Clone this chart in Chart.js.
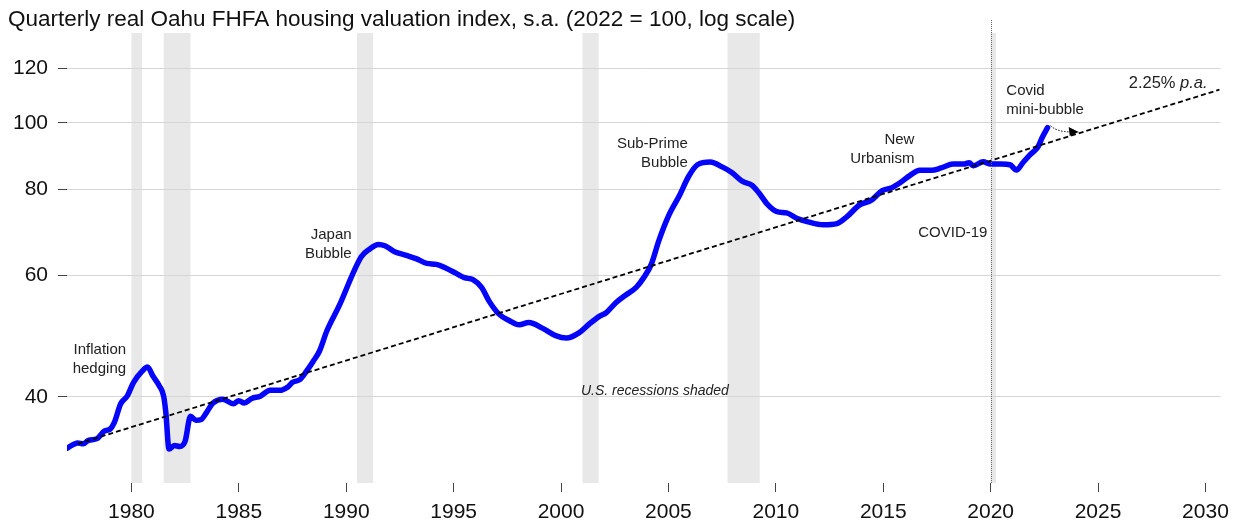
<!DOCTYPE html>
<html>
<head>
<meta charset="utf-8">
<script src="https://cdn.jsdelivr.net/npm/chart.js@4/dist/chart.umd.min.js"></script>
<style>
  body { margin: 0; background: #fff; }
  #wrap { width: 1237px; height: 522px; }
</style>
</head>
<body>
<div id="wrap"><canvas id="oahuChart" width="1237" height="522"></canvas></div>
<script>
// Real Oahu FHFA index (2022 = 100)
const years = [
  1977.0, 1977.5, 1977.75, 1978.0, 1978.4, 1978.75, 1979.0, 1979.2, 1979.5, 1979.8,
  1980.1, 1980.5, 1980.75, 1981.0, 1981.3, 1981.5, 1981.6, 1981.75, 1982.0, 1982.25,
  1982.5, 1982.75, 1983.0, 1983.25, 1983.5, 1983.8, 1984.25, 1984.75, 1985.0, 1985.25,
  1985.6, 1986.0, 1986.45, 1986.9, 1987.3, 1987.5, 1987.85, 1988.15, 1988.45, 1988.75,
  1989.1, 1989.7, 1990.3, 1990.7, 1991.1, 1991.5, 1991.8, 1992.25, 1992.8, 1993.25,
  1993.75, 1994.2, 1994.65, 1995.1, 1995.5, 1995.9, 1996.3, 1996.65, 1997.1, 1997.6,
  1998.05, 1998.5, 1999.15, 1999.75, 2000.25, 2000.85, 2001.3, 2001.8, 2002.1, 2002.55,
  2003.0, 2003.5, 2003.85, 2004.2, 2004.55, 2005.0, 2005.5, 2005.95, 2006.35, 2006.95,
  2007.5, 2007.95, 2008.45, 2008.9, 2009.2, 2009.6, 2010.05, 2010.5, 2011.0, 2011.5,
  2012.2, 2012.85, 2013.3, 2013.9, 2014.45, 2014.95, 2015.4, 2015.8, 2016.25, 2016.7,
  2017.25, 2017.7, 2018.25, 2018.75, 2019.0, 2019.2, 2019.65, 2020.0, 2020.5, 2020.9,
  2021.2, 2021.5, 2021.85, 2022.2, 2022.4, 2022.65
];
const index = [
  33.7, 34.3, 34.2, 34.6, 34.8, 35.7, 35.9, 36.7, 39.1, 40.1,
  42.0, 43.6, 44.2, 42.9, 41.5, 40.1, 38.0, 33.6, 34.0, 33.9,
  34.5, 37.5, 37.0, 37.1, 38.0, 39.2, 39.7, 39.1, 39.5, 39.2,
  39.8, 40.1, 40.9, 40.9, 41.4, 42.0, 42.4, 43.6, 45.0, 46.6,
  49.9, 54.5, 60.3, 63.9, 65.6, 66.6, 66.3, 65.0, 64.2, 63.5,
  62.5, 62.3, 61.5, 60.5, 59.6, 59.2, 57.7, 55.1, 52.8, 51.6,
  50.9, 51.3, 50.3, 49.1, 48.7, 49.6, 51.0, 52.4, 53.0, 54.8,
  56.2, 57.7, 59.6, 62.3, 67.4, 73.2, 78.3, 83.7, 86.9, 87.7,
  86.3, 84.7, 82.2, 81.1, 79.2, 76.2, 74.3, 74.0, 72.6, 71.8,
  71.1, 71.4, 73.0, 76.0, 77.2, 79.7, 80.5, 81.9, 83.9, 85.3,
  85.3, 86.0, 87.1, 87.1, 87.5, 86.6, 87.8, 87.1, 87.1, 86.9,
  85.4, 87.5, 90.0, 92.2, 95.2, 98.4
];

// 2.25% p.a. trend, end points
const trendYears = [1977.5, 2030.65];
const trendValues = [34.2, 111.7];

// US recessions (start, end) in years
const recessions = [
  [1980.0, 1980.5], [1981.5, 1982.75], [1990.5, 1991.25],
  [2001.0, 2001.75], [2007.75, 2009.25], [2020.0, 2020.25]
];

const xTicks = [1980, 1985, 1990, 1995, 2000, 2005, 2010, 2015, 2020, 2025, 2030];
const yTicks = [40, 60, 80, 100, 120];

const FONT = "'Liberation Sans', Arial, sans-serif";

const labels = [
  { lines: ["Inflation", "hedging"], x: 1979.75, y: 46.8, align: "right" },
  { lines: ["Japan", "Bubble"], x: 1990.25, y: 68.7, align: "right" },
  { lines: ["Sub-Prime", "Bubble"], x: 2005.9, y: 93.2, align: "right" },
  { lines: ["New", "Urbanism"], x: 2016.45, y: 94.4, align: "right" },
  { lines: ["COVID-19"], x: 2019.85, y: 69.2, align: "right" },
  { lines: ["Covid", "mini-bubble"], x: 2020.73, y: 111.2, align: "left" }
];

const overlay = {
  id: "overlay",
  beforeDraw(chart) {
    const { ctx, chartArea, scales } = chart;
    ctx.save();
    ctx.fillStyle = "#e8e8e8";
    recessions.forEach(r => {
      const a = scales.x.getPixelForValue(r[0]);
      const b = scales.x.getPixelForValue(r[1]);
      ctx.fillRect(a, chartArea.top, b - a, chartArea.bottom - chartArea.top);
    });
    ctx.restore();
  },
  afterDatasetsDraw(chart) {
    const { ctx, chartArea, scales } = chart;
    const px = v => scales.x.getPixelForValue(v);
    const py = v => scales.y.getPixelForValue(v);
    ctx.save();

    // covid marker line
    ctx.strokeStyle = "#666";
    ctx.lineWidth = 1;
    ctx.setLineDash([1, 1]);
    ctx.beginPath();
    ctx.moveTo(Math.round(px(2020.0)) + 0.5, 20);
    ctx.lineTo(Math.round(px(2020.0)) + 0.5, chartArea.bottom);
    ctx.stroke();

    // dotted arrow from the last point onto the trend
    const x0 = px(years[years.length - 1]) + 3, y0 = py(index[index.length - 1]) - 2;
    const x1 = px(2024.1), y1 = py(97.0);
    ctx.setLineDash([1.5, 1.5]);
    ctx.strokeStyle = "#000";
    ctx.beginPath();
    ctx.moveTo(x0, y0);
    ctx.quadraticCurveTo(x0 + 6, y1, x1 - 8, y1);
    ctx.stroke();
    ctx.setLineDash([]);
    ctx.fillStyle = "#000";
    ctx.beginPath();
    ctx.moveTo(x1, y1);
    ctx.lineTo(x1 - 10, y1 - 5);
    ctx.lineTo(x1 - 9, y1 + 4);
    ctx.closePath();
    ctx.fill();

    // text notes
    ctx.fillStyle = "#222";
    ctx.textBaseline = "middle";
    ctx.font = "15px " + FONT;
    labels.forEach(l => {
      ctx.textAlign = l.align;
      l.lines.forEach((t, i) => ctx.fillText(t, px(l.x), py(l.y) + i * 19));
    });

    // 2.25% p.a.
    ctx.font = "italic 16.5px " + FONT;
    const pa = "p.a.";
    const wPa = ctx.measureText(pa).width;
    const rx = px(2030.1), ry = py(113.9);
    ctx.textAlign = "right";
    ctx.fillText(pa, rx, ry);
    ctx.font = "16.5px " + FONT;
    ctx.fillText("2.25% ", rx - wPa, ry);

    ctx.font = "italic 14px " + FONT;
    ctx.textAlign = "center";
    ctx.fillText("U.S. recessions shaded", px(2004.37), py(40.8));

    // title
    ctx.font = "22.5px " + FONT;
    ctx.textAlign = "left";
    ctx.fillStyle = "#111";
    ctx.fillText("Quarterly real Oahu FHFA housing valuation index, s.a. (2022 = 100, log scale)", 8, 20);
    ctx.restore();
  }
};

const ctx = document.getElementById("oahuChart").getContext("2d");
new Chart(ctx, {
  type: "line",
  data: {
    datasets: [
      {
        label: "Trend",
        data: trendYears.map((y, i) => ({ x: y, y: trendValues[i] })),
        borderColor: "#000",
        borderWidth: 1.8,
        borderDash: [5, 3],
        pointRadius: 0,
        order: 0
      },
      {
        label: "Oahu index",
        data: years.map((y, i) => ({ x: y, y: index[i] })),
        borderColor: "#0505fa",
        borderWidth: 5.5,
        pointRadius: 0,
        cubicInterpolationMode: "monotone",
        borderJoinStyle: "round",
        borderCapStyle: "round",
        order: 1
      }
    ]
  },
  options: {
    responsive: false,
    animation: false,
    layout: { padding: { left: 0, right: 15, top: 33, bottom: 0 } },
    plugins: { legend: { display: false }, tooltip: { enabled: false }, title: { display: false } },
    scales: {
      x: {
        type: "linear",
        min: 1977,
        max: 2030.7,
        afterBuildTicks: s => { s.ticks = xTicks.map(v => ({ value: v })); },
        afterFit: s => { s.height = 39; },
        border: { display: false },
        grid: { drawOnChartArea: false, tickLength: 9, tickColor: "#444", lineWidth: 1 },
        ticks: {
          font: { family: FONT, size: 21 },
          color: "#111",
          padding: 8,
          maxRotation: 0,
          callback: v => String(v)
        }
      },
      y: {
        type: "logarithmic",
        min: 30,
        max: 135,
        afterBuildTicks: s => { s.ticks = yTicks.map(v => ({ value: v })); },
        afterFit: s => { s.width = 67; },
        border: { display: false },
        grid: { color: "#d6d6d6", tickColor: "#444", tickLength: 9, lineWidth: 1 },
        ticks: {
          font: { family: FONT, size: 21 },
          color: "#111",
          padding: 10,
          callback: v => String(v)
        }
      }
    }
  },
  plugins: [overlay]
});
</script>
</body>
</html>
